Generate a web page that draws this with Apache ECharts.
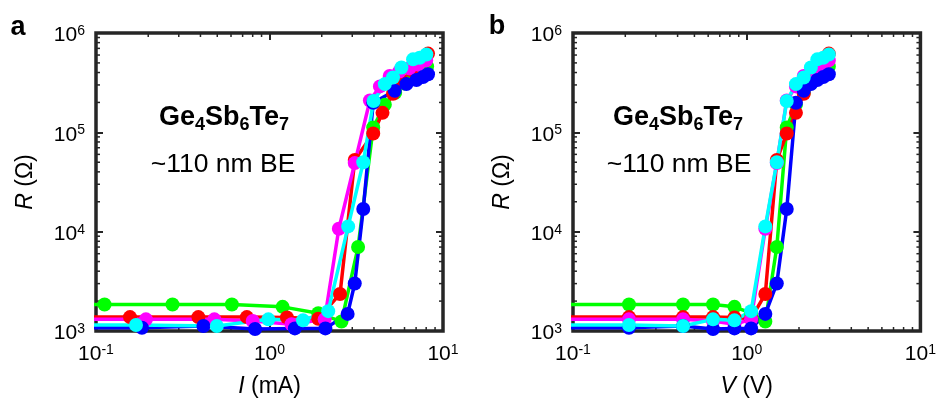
<!DOCTYPE html>
<html>
<head>
<meta charset="utf-8">
<script src="https://cdn.jsdelivr.net/npm/echarts@6/dist/echarts.min.js"></script>
<style>
  html, body { margin: 0; padding: 0; background: #fff; }
  #chart { width: 939px; height: 403px; }
</style>
</head>
<body>
<div id="chart"></div>
<script>
// Pulse voltage (V), shared by all five devices; first entry sits below the axis range
const V_pulse = [0.05, 0.21, 0.43, 0.64, 0.85, 1.06, 1.28, 1.49, 1.70, 1.92, 2.13, 2.34, 2.55, 2.76, 2.97];

// Pulse current (mA) per device
const I_green   = [0.05, 0.112, 0.276, 0.607, 1.19, 1.91, 2.60, 3.24, 3.96, 4.62, 5.30, 6.00, 6.70, 7.40, 8.10];
const I_red     = [0.05, 0.157, 0.389, 0.740, 1.26, 1.91, 2.55, 3.10, 3.96, 4.48, 5.15, 5.80, 6.60, 7.40, 8.20];
const I_magenta = [0.05, 0.194, 0.481, 0.800, 1.34, 2.08, 2.51, 3.10, 3.79, 4.33, 4.93, 5.60, 6.40, 7.20, 8.00];
const I_blue    = [0.05, 0.184, 0.416, 0.826, 1.40, 2.10, 2.82, 3.10, 3.47, 3.96, 5.27, 6.15, 7.03, 7.67, 8.20];
const I_cyan    = [0.05, 0.170, 0.497, 0.985, 1.56, 2.18, 2.84, 3.47, 3.98, 4.62, 5.15, 5.76, 6.72, 7.34, 8.02];

// Read-out resistance (Ω) after each pulse
const R_green   = [1850, 1850, 1850, 1850, 1750, 1510, 1245, 7000, 112000, 190000, 250000, 310000, 360000, 410000, 460000];
const R_red     = [1380, 1380, 1380, 1380, 1370, 1330, 2360, 52600, 97500, 157000, 245000, 330000, 420000, 520000, 620000];
const R_magenta = [1310, 1310, 1310, 1260, 1170, 1310, 10700, 49000, 209000, 290000, 370000, 410000, 440000, 480000, 530000];
const R_blue    = [1080, 1080, 1124, 1049, 1062, 1062, 1486, 3006, 16900, 198000, 262000, 306000, 336000, 361000, 385000];
const R_cyan    = [1150, 1150, 1124, 1310, 1280, 1585, 11300, 50000, 207000, 306000, 357000, 449000, 543000, 564000, 608000];

// Axis ranges and minor-tick multipliers
const X_RANGE = [0.1, 10];
const Y_RANGE = [1e3, 1e6];
const X_DECADES = [0.1, 1];
const Y_DECADES = [1e3, 1e4, 1e5];
const MINOR_MULT = [2, 3, 4, 5, 6, 7, 8, 9];

const FONT = '"Liberation Sans", Arial, Helvetica, sans-serif';
const FRAME = '#262626';
const MAJOR_LEN = 7;
const MINOR_LEN = 4;

const devices = [
  { color: '#00ff00', I: I_green,   R: R_green },
  { color: '#ff0000', I: I_red,     R: R_red },
  { color: '#ff00ff', I: I_magenta, R: R_magenta },
  { color: '#0000ff', I: I_blue,    R: R_blue },
  { color: '#00ffff', I: I_cyan,    R: R_cyan }
];

function zip(xs, ys) { return xs.map((x, i) => [x, ys[i]]); }

function minorValues(decades) {
  const out = [];
  decades.forEach(d => MINOR_MULT.forEach(m => out.push(+(d * m).toPrecision(3))));
  return out;
}

function powLabel(v) {
  const e = Math.round(Math.log10(v));
  return '{b|10}{s|' + e + '}';
}

const tickRich = {
  b: { fontSize: 21, fontFamily: FONT, color: '#000', lineHeight: 23 },
  s: { fontSize: 14, fontFamily: FONT, color: '#000', lineHeight: 14, verticalAlign: 'top' }
};

const grids = [
  { left: 96, top: 33, width: 347, height: 302 },
  { left: 573, top: 33, width: 351, height: 302 }
];

function logAxisBase(range) {
  return {
    type: 'log', logBase: 10, min: range[0], max: range[1],
    splitLine: { show: false },
    axisLine: { show: false },
    axisTick: { show: true, inside: true, length: MAJOR_LEN, lineStyle: { color: FRAME, width: 2 } }
  };
}

const xAxes = [];
const yAxes = [];
const xNames = ['{i|I} (mA)', '{i|V} (V)'];
grids.forEach((g, gi) => {
  xAxes.push(Object.assign(logAxisBase(X_RANGE), {
    gridIndex: gi, position: 'bottom',
    axisLabel: { formatter: powLabel, rich: tickRich, margin: 12 },
    name: xNames[gi], nameLocation: 'middle', nameGap: 44,
    nameTextStyle: {
      fontSize: 23, fontFamily: FONT, color: '#000',
      rich: { i: { fontSize: 23, fontFamily: FONT, fontStyle: 'italic', color: '#000' } }
    }
  }));
  xAxes.push(Object.assign(logAxisBase(X_RANGE), {
    gridIndex: gi, position: 'top', axisLabel: { show: false }
  }));
  yAxes.push(Object.assign(logAxisBase(Y_RANGE), {
    gridIndex: gi, position: 'left',
    axisLabel: { formatter: powLabel, rich: tickRich, margin: 11, padding: [5, 0, 0, 0] },
    name: '{i|R} (Ω)', nameLocation: 'middle', nameRotate: 90, nameGap: 59,
    nameTextStyle: {
      fontSize: 23, fontFamily: FONT, color: '#000',
      rich: { i: { fontSize: 23, fontFamily: FONT, fontStyle: 'italic', color: '#000' } }
    }
  }));
  yAxes.push(Object.assign(logAxisBase(Y_RANGE), {
    gridIndex: gi, position: 'right', axisLabel: { show: false }
  }));
});

// Minor ticks on all four frame edges, placed through the axis scales
function xMinorRender(params, api) {
  const cs = params.coordSys;
  const x = api.coord([api.value(0), api.value(1)])[0];
  const style = { stroke: FRAME, lineWidth: 1.5 };
  return { type: 'group', children: [
    { type: 'line', shape: { x1: x, y1: cs.y + cs.height, x2: x, y2: cs.y + cs.height - MINOR_LEN }, style },
    { type: 'line', shape: { x1: x, y1: cs.y, x2: x, y2: cs.y + MINOR_LEN }, style }
  ]};
}
function yMinorRender(params, api) {
  const cs = params.coordSys;
  const y = api.coord([api.value(0), api.value(1)])[1];
  const style = { stroke: FRAME, lineWidth: 1.5 };
  return { type: 'group', children: [
    { type: 'line', shape: { x1: cs.x, y1: y, x2: cs.x + MINOR_LEN, y2: y }, style },
    { type: 'line', shape: { x1: cs.x + cs.width, y1: y, x2: cs.x + cs.width - MINOR_LEN, y2: y }, style }
  ]};
}

const series = [];
grids.forEach((g, gi) => {
  const xi = gi * 2, yi = gi * 2;
  devices.forEach(d => {
    const xs = gi === 0 ? d.I : V_pulse;
    series.push({
      type: 'line', xAxisIndex: xi, yAxisIndex: yi,
      data: zip(xs, d.R),
      symbol: 'circle', symbolSize: 14, showSymbol: true,
      lineStyle: { width: 3.5, color: d.color },
      itemStyle: { color: d.color },
      clip: true, silent: true, animation: false
    });
  });
  series.push({
    type: 'custom', xAxisIndex: xi, yAxisIndex: yi, silent: true, clip: false, z: 1,
    renderItem: xMinorRender,
    data: minorValues(X_DECADES).map(v => [v, Y_RANGE[0]])
  });
  series.push({
    type: 'custom', xAxisIndex: xi, yAxisIndex: yi, silent: true, clip: false, z: 1,
    renderItem: yMinorRender,
    data: minorValues(Y_DECADES).map(v => [X_RANGE[0], v])
  });
});

function formulaText(cx, cy) {
  const main = { fontSize: 27, fontWeight: 'bold', fontFamily: FONT, fill: '#000', color: '#000', lineHeight: 32 };
  const sub = { fontSize: 18, fontWeight: 'bold', fontFamily: FONT, fill: '#000', color: '#000', lineHeight: 18, verticalAlign: 'bottom' };
  return {
    type: 'text', x: cx, y: cy, silent: true,
    style: {
      text: '{m|Ge}{s|4}{m|Sb}{s|6}{m|Te}{s|7}',
      rich: { m: main, s: sub },
      fill: '#000', align: 'center', verticalAlign: 'middle',
      textAlign: 'center', textVerticalAlign: 'middle'
    }
  };
}
function plainText(txt, cx, cy, font) {
  return {
    type: 'text', x: cx, y: cy, silent: true,
    style: {
      text: txt, font: font, fill: '#000',
      align: 'center', verticalAlign: 'middle',
      textAlign: 'center', textVerticalAlign: 'middle'
    }
  };
}

const chart = echarts.init(document.getElementById('chart'), null, { renderer: 'canvas' });
chart.setOption({
  backgroundColor: '#fff',
  animation: false,
  grid: grids.map(g => Object.assign({
    show: true, borderColor: FRAME, borderWidth: 3.5, backgroundColor: 'transparent', containLabel: false
  }, g)),
  xAxis: xAxes,
  yAxis: yAxes,
  series: series,
  graphic: [
    plainText('a', 18, 28, 'bold 27px ' + FONT),
    plainText('b', 497, 27, 'bold 27px ' + FONT),
    formulaText(224, 118),
    plainText('~110 nm BE', 223, 165, '26.5px ' + FONT),
    formulaText(678, 118),
    plainText('~110 nm BE', 679, 165, '26.5px ' + FONT)
  ]
});
</script>
</body>
</html>
